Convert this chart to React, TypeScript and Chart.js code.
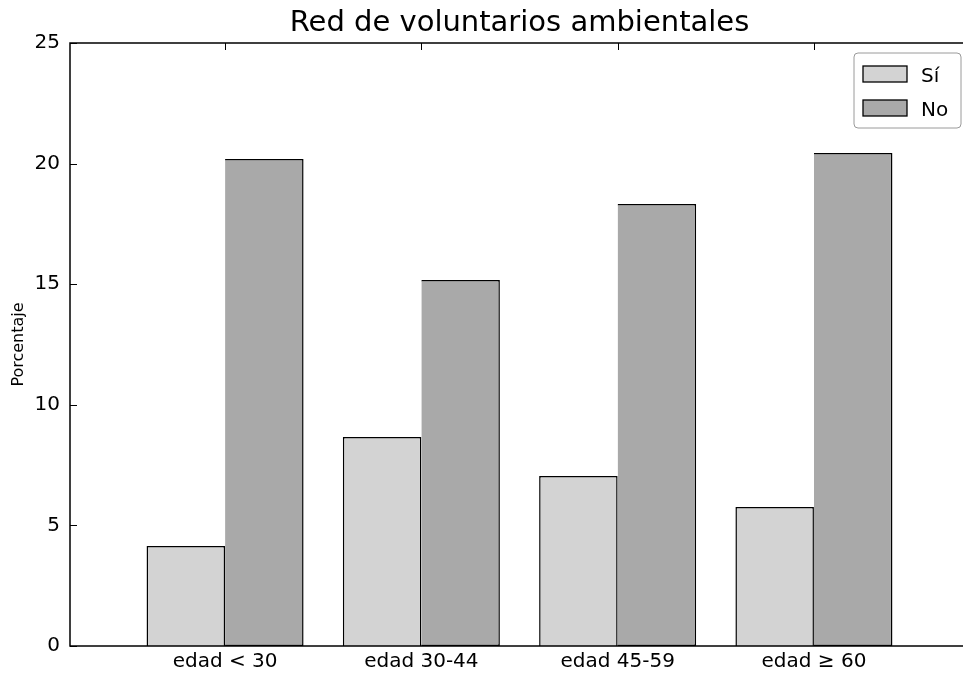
import React, { useEffect, useRef } from "react";
import { Chart, registerables } from "chart.js";

Chart.register(...registerables);

const categories = ["edad < 30", "edad 30-44", "edad 45-59", "edad \u2265 60"];
const seriesNames = ["Sí", "No"];
const siValues = [4.15, 8.66, 7.05, 5.76];
const noValues = [20.19, 15.17, 18.33, 20.44];
const yTicks = [0, 5, 10, 15, 20, 25];
const seriesColors = ["#d3d3d3", "#a9a9a9"];

const FONT = "'DejaVu Sans', sans-serif";
const CANVAS_W = 975;
const CANVAS_H = 674;

const frameAndTicks = {
  id: "frameAndTicks",
  afterDatasetsDraw(chart: any) {
    const { ctx, chartArea: a, scales } = chart;
    const xs = scales.x;
    const ys = scales.y;
    ctx.save();
    ctx.strokeStyle = "#000";
    ctx.lineWidth = 1;
    const tl = 7;
    ctx.beginPath();
    yTicks.forEach((v) => {
      const py = Math.round(ys.getPixelForValue(v)) + 0.5;
      ctx.moveTo(a.left, py);
      ctx.lineTo(a.left + tl, py);
    });
    categories.forEach((_, i) => {
      const px = Math.round(xs.getPixelForValue(i)) + 0.5;
      ctx.moveTo(px, a.top);
      ctx.lineTo(px, a.top + tl);
    });
    ctx.stroke();
    ctx.lineWidth = 1.5;
    ctx.strokeRect(a.left, a.top, a.right - a.left, a.bottom - a.top);
    ctx.restore();
  },
};

const boxLegend = {
  id: "boxLegend",
  afterDraw(chart: any) {
    const { ctx, chartArea: a } = chart;
    const w = 107;
    const h = 75;
    const right = a.right - 8;
    const left = right - w;
    const top = a.top + 10;
    const r = 4;
    ctx.save();
    ctx.beginPath();
    ctx.moveTo(left + r, top);
    ctx.lineTo(left + w - r, top);
    ctx.arcTo(left + w, top, left + w, top + r, r);
    ctx.lineTo(left + w, top + h - r);
    ctx.arcTo(left + w, top + h, left + w - r, top + h, r);
    ctx.lineTo(left + r, top + h);
    ctx.arcTo(left, top + h, left, top + h - r, r);
    ctx.lineTo(left, top + r);
    ctx.arcTo(left, top, left + r, top, r);
    ctx.closePath();
    ctx.fillStyle = "#ffffff";
    ctx.fill();
    ctx.strokeStyle = "#9a9a9a";
    ctx.lineWidth = 1;
    ctx.stroke();

    ctx.font = `20px ${FONT}`;
    ctx.textBaseline = "alphabetic";
    ctx.textAlign = "left";
    chart.data.datasets.forEach((ds: any, i: number) => {
      const py = top + 13 + i * 34;
      const px = left + 9;
      ctx.fillStyle = ds.backgroundColor;
      ctx.fillRect(px, py, 44, 16);
      ctx.strokeStyle = "#000";
      ctx.lineWidth = 1.3;
      ctx.strokeRect(px, py, 44, 16);
      ctx.fillStyle = "#000";
      ctx.fillText(ds.label, px + 58, py + 16);
    });
    ctx.restore();
  },
};

export default function App() {
  const ref = useRef<HTMLCanvasElement | null>(null);

  useEffect(() => {
    if (!ref.current) return;
    const chart = new Chart(ref.current, {
      type: "bar",
      data: {
        datasets: [
          {
            label: seriesNames[0],
            data: siValues.map((v, i) => ({ x: i, y: v })),
            backgroundColor: seriesColors[0],
            borderColor: "#000",
            borderWidth: 1.5,
            borderSkipped: "bottom",
            categoryPercentage: 0.8,
            barPercentage: 1,
          },
          {
            label: seriesNames[1],
            data: noValues.map((v, i) => ({ x: i, y: v })),
            backgroundColor: seriesColors[1],
            borderColor: "#000",
            borderWidth: 1.5,
            borderSkipped: "left",
            categoryPercentage: 0.8,
            barPercentage: 1,
          },
        ],
      },
      options: {
        animation: false,
        responsive: false,
        devicePixelRatio: 1,
        layout: { padding: { top: 0, left: 0, right: CANVAS_W - 969, bottom: 0 } },
        plugins: {
          legend: { display: false },
          tooltip: { enabled: false },
          title: {
            display: true,
            text: "Red de voluntarios ambientales",
            fullSize: false,
            color: "#000",
            font: { family: FONT, size: 29, weight: "normal", lineHeight: 1.2 },
            padding: { top: 5.9, bottom: 2.3 },
          },
        },
        scales: {
          x: {
            type: "linear",
            offset: false,
            min: -0.79,
            max: 3.79,
            grid: { display: false, drawTicks: false, offset: false },
            border: { display: false },
            afterBuildTicks: (scale: any) => {
              scale.ticks = categories.map((_, i) => ({ value: i }));
            },
            afterFit: (scale: any) => {
              scale.height = 28;
            },
            ticks: {
              autoSkip: false,
              maxRotation: 0,
              minRotation: 0,
              padding: 4,
              color: "#000",
              font: { family: FONT, size: 20 },
              callback: (v: any) => categories[v as number] ?? "",
            },
          },
          y: {
            min: 0,
            max: 25,
            grid: { display: false, drawTicks: false },
            border: { display: false },
            afterBuildTicks: (scale: any) => {
              scale.ticks = yTicks.map((v) => ({ value: v }));
            },
            afterFit: (scale: any) => {
              scale.width = 70;
            },
            ticks: {
              padding: 10,
              color: "#000",
              font: { family: FONT, size: 20 },
              callback: (v: any) => String(v),
            },
            title: {
              display: true,
              text: "Porcentaje",
              color: "#000",
              font: { family: FONT, size: 16, lineHeight: 1.2 },
              padding: { top: 9.4, bottom: 0 },
            },
          },
        },
      },
      plugins: [frameAndTicks, boxLegend],
    } as any);
    return () => chart.destroy();
  }, []);

  return (
    <div
      style={{
        position: "fixed",
        left: 0,
        top: 0,
        width: 963,
        height: 674,
        overflow: "hidden",
        background: "#fff",
      }}
    >
      <canvas
        ref={ref}
        width={CANVAS_W}
        height={CANVAS_H}
        style={{ display: "block", width: CANVAS_W, height: CANVAS_H }}
      />
    </div>
  );
}
